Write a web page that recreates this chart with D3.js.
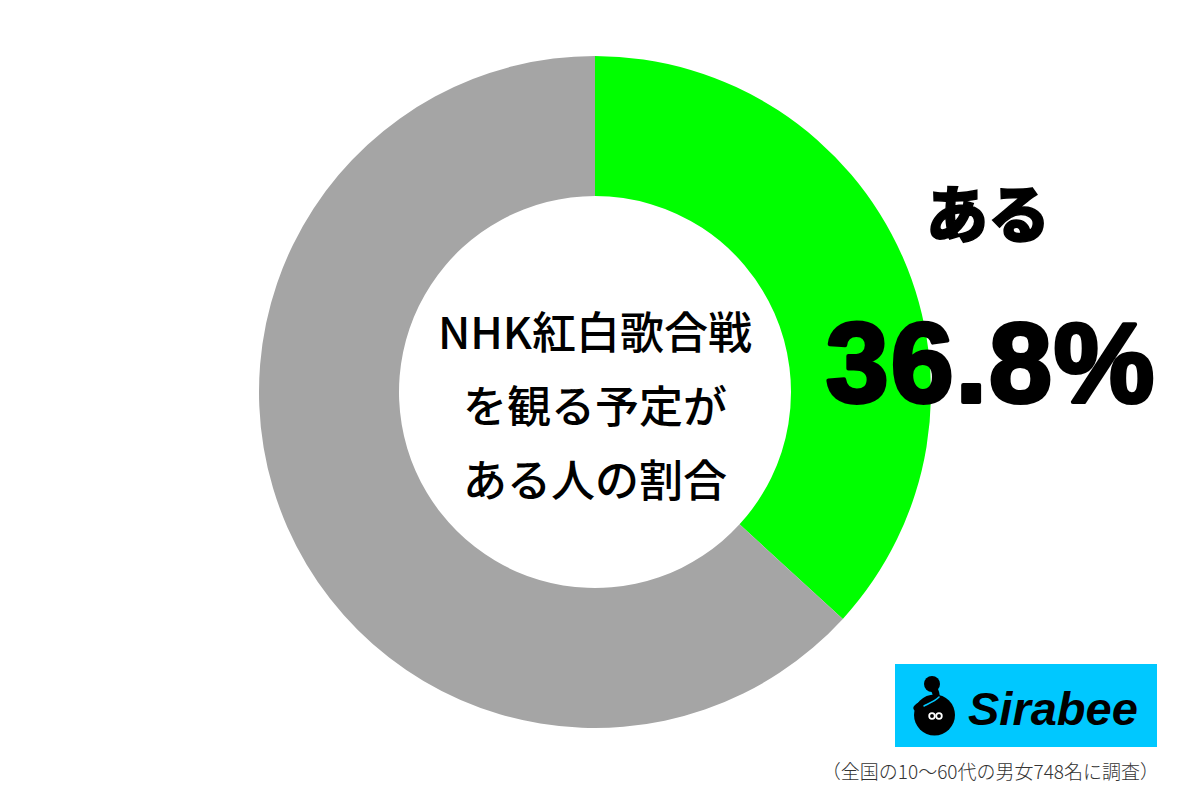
<!DOCTYPE html>
<html>
<head>
<meta charset="utf-8">
<script src="https://cdn.jsdelivr.net/npm/d3@7"></script>
<style>
  body { margin: 0; background: #fff; }
  svg { display: block; }
</style>
</head>
<body>
<svg id="chart" width="1200" height="800"></svg>
<script>
// values
var categories = ["ある", "その他"];
var values = [36.8, 63.2];
var colors = ["#00ff00", "#a5a5a5"];
var centerLines = ["NHK紅白歌合戦", "を観る予定が", "ある人の割合"];
var note = "（全国の10～60代の男女748名に調査）";

var jp = "'Noto Sans CJK JP', 'Noto Sans', sans-serif";
var svg = d3.select("#chart");

var cx = 595, cy = 392;
var pie = d3.pie().sort(null).value(function(d) { return d; });
var arc = d3.arc().innerRadius(196).outerRadius(336);

var g = svg.append("g").attr("transform", "translate(" + cx + "," + cy + ")");
g.selectAll("path")
    .data(pie(values))
    .enter()
    .append("path")
    .attr("d", arc)
    .attr("fill", function(d, i) { return colors[i]; });

// center label
g.selectAll(".center")
    .data(centerLines)
    .enter()
    .append("text")
    .attr("class", "center")
    .attr("x", 0)
    .attr("y", function(d, i) { return -59 + i * 74 + 16; })
    .attr("text-anchor", "middle")
    .attr("font-family", jp)
    .attr("font-weight", 500)
    .attr("font-size", 44)
    .attr("fill", "#000")
    .text(function(d) { return d; });

// value label
svg.append("text")
    .attr("x", 988)
    .attr("y", 238)
    .attr("text-anchor", "middle")
    .attr("font-family", jp)
    .attr("font-weight", 900)
    .attr("font-size", 62)
    .attr("fill", "#000")
    .attr("stroke", "#000")
    .attr("stroke-width", 1.5)
    .text(categories[0]);

svg.append("text")
    .attr("x", 991)
    .attr("y", 402)
    .attr("text-anchor", "middle")
    .attr("font-family", "'Liberation Sans', Arial, sans-serif")
    .attr("font-weight", 700)
    .attr("font-size", 113)
    .attr("letter-spacing", 2)
    .attr("fill", "#000")
    .attr("stroke", "#000")
    .attr("stroke-width", 4)
    .attr("stroke-linejoin", "round")
    .text(values[0].toFixed(1) + "%");

// logo
var logo = svg.append("g").attr("transform", "translate(895,664)");
logo.append("rect").attr("width", 262).attr("height", 83).attr("fill", "#00c8ff");
logo.append("circle").attr("cx", 39.5).attr("cy", 51).attr("r", 20.5).attr("fill", "#000");
logo.append("path")
    .attr("d", "M38,22 C40,28 44,32 38,36 C32,39 26,40 22,44")
    .attr("fill", "none")
    .attr("stroke", "#000")
    .attr("stroke-width", 7)
    .attr("stroke-linecap", "round");
logo.append("circle").attr("cx", 37).attr("cy", 20).attr("r", 8).attr("fill", "#000");
logo.append("path")
    .attr("d", "M29,42 C35,39 40,37 44,33")
    .attr("fill", "none")
    .attr("stroke", "#00c8ff")
    .attr("stroke-width", 1.6)
    .attr("stroke-linecap", "round");
logo.selectAll(".eye")
    .data([37, 44])
    .enter()
    .append("circle")
    .attr("class", "eye")
    .attr("cx", function(d) { return d; })
    .attr("cy", 52)
    .attr("r", 2.8)
    .attr("fill", "#000")
    .attr("stroke", "#fff")
    .attr("stroke-width", 1.8);
logo.append("text")
    .attr("x", 73)
    .attr("y", 61)
    .attr("font-family", "'Liberation Sans', Arial, sans-serif")
    .attr("font-weight", 700)
    .attr("font-style", "italic")
    .attr("font-size", 47)
    .attr("fill", "#000")
    .text("Sirabee");

svg.append("text")
    .attr("x", 1159)
    .attr("y", 779)
    .attr("text-anchor", "end")
    .attr("font-family", jp)
    .attr("font-weight", 300)
    .attr("font-size", 19)
    .attr("fill", "#333")
    .text(note);
</script>
</body>
</html>
